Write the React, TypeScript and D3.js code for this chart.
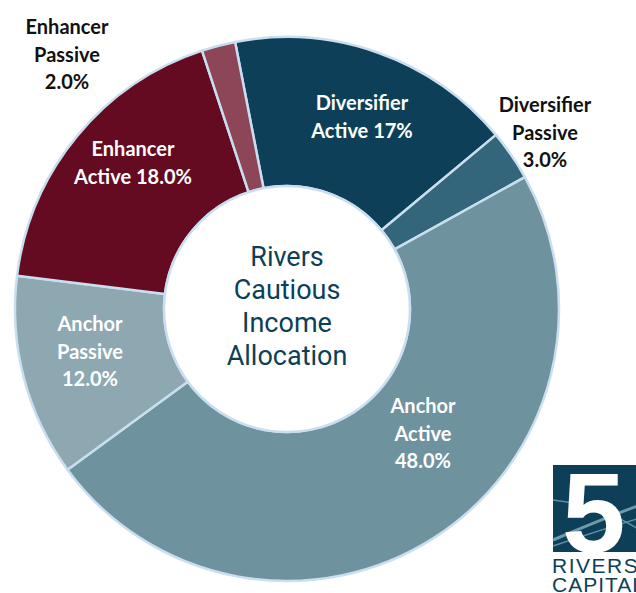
import React from "react";
import * as d3 from "d3";

const categories = ["Diversifier Active", "Diversifier Passive", "Anchor Active", "Anchor Passive", "Enhancer Active", "Enhancer Passive"];
const values = [17, 3, 48, 12, 18, 2];
const valueLabels = ["17%", "3.0%", "48.0%", "12.0%", "18.0%", "2.0%"];
const colors = ["#0d4058", "#33667a", "#6e929e", "#8ea8b1", "#640b21", "#8c4657"];
const centerLines = ["Rivers", "Cautious", "Income", "Allocation"];

const W = 636, H = 593;
const cx = 287, cy = 309, R = 272, r0 = 123;
const startDeg = -11;

const labelLines = [
  ["Diversifier", "Active 17%"],
  ["Diversifier", "Passive", "3.0%"],
  ["Anchor", "Active", "48.0%"],
  ["Anchor", "Passive", "12.0%"],
  ["Enhancer", "Active 18.0%"],
  ["Enhancer", "Passive", "2.0%"],
];
const labelPos = [
  [362, 110, "#fff"],
  [545, 112, "#111"],
  [423, 413, "#fff"],
  [90, 331, "#fff"],
  [133, 156, "#fff"],
  [67, 34, "#111"],
];

export default function App() {
  const pie = d3
    .pie<number>()
    .sort(null)
    .value((d) => d)
    .startAngle((startDeg * Math.PI) / 180)
    .endAngle(((startDeg + 360) * Math.PI) / 180);
  const arcs = pie(values);
  const arc = d3.arc<d3.PieArcDatum<number>>().innerRadius(r0).outerRadius(R);

  return (
    <svg width={W} height={H} style={{ position: "absolute", left: 0, top: 0, background: "#fff" }}>
      <g transform={`translate(${cx},${cy})`}>
        {arcs.map((a, i) => (
          <path key={categories[i]} d={arc(a) || ""} fill={colors[i]} stroke="#c9deef" strokeWidth={2.5} strokeLinejoin="round" />
        ))}
        <circle r={r0} fill="#fff" stroke="#c9deef" strokeWidth={2.5} />
        {centerLines.map((t, i) => (
          <text key={t} x={0} y={-43 + i * 33} textAnchor="middle" fontFamily="Roboto, 'Liberation Sans', sans-serif" fontSize={27} fill="#0d3f56">
            {t}
          </text>
        ))}
      </g>
      {labelLines.map((lines, i) => (
        <g key={categories[i]}>
          {lines.map((t, j) => (
            <text
              key={j}
              x={labelPos[i][0] as number}
              y={(labelPos[i][1] as number) + j * 27.5}
              textAnchor="middle"
              fontFamily="Lato, 'Open Sans', sans-serif"
              fontWeight="bold"
              fontSize={20}
              fill={labelPos[i][2] as string}
            >
              {t}
            </text>
          ))}
        </g>
      ))}
      <g>
        <rect x={553} y={465} width={90} height={87} fill="#0d4058" />
        <path d="M553,500 Q600,505 640,530" fill="none" stroke="#5f8fa0" strokeWidth={1.5} />
        <path d="M553,540 Q600,520 640,505" fill="none" stroke="#6f9aa8" strokeWidth={3} />
        <path d="M553,546 Q600,530 640,518" fill="none" stroke="#5f8fa0" strokeWidth={1.5} />
        <text x={562} y={552} fontFamily="'Liberation Sans', Arial, sans-serif" fontWeight="bold" fontSize={114} fill="#fff">
          5
        </text>
        <text x={552} y={573} fontFamily="'Liberation Sans', Arial, sans-serif" fontSize={21} fill="#0d4058" letterSpacing={1.5}>
          RIVERS
        </text>
        <text x={552} y={592} fontFamily="'Liberation Sans', Arial, sans-serif" fontSize={21} fill="#0d4058" letterSpacing={1}>
          CAPITAL
        </text>
      </g>
    </svg>
  );
}
